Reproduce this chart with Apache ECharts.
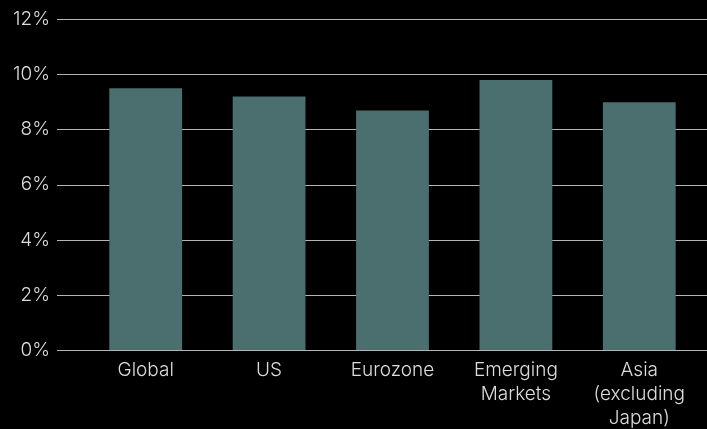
<!DOCTYPE html>
<html><head><meta charset="utf-8">
<script src="https://cdn.jsdelivr.net/npm/echarts@6/dist/echarts.min.js"></script>
<style>html,body{margin:0;padding:0;background:#000;}#c{width:707px;height:429px;}</style>
</head><body><div id="c"></div>
<script>
const categories = ['Global', 'US', 'Eurozone', 'Emerging\nMarkets', 'Asia\n(excluding\nJapan)'];
const values = [9.5, 9.2, 8.7, 9.8, 9.0];
const yTicks = [0, 2, 4, 6, 8, 10, 12];

const chart = echarts.init(document.getElementById('c'), null, {renderer: 'canvas'});
const FONT = 'Inter';
chart.setOption({
  backgroundColor: '#000',
  animation: false,
  grid: [
    {left: 57, right: 0, top: 19.5, bottom: 79, containLabel: false, outerBoundsMode: 'none'},
    {left: 84, right: 6, top: 19.5, bottom: 79, containLabel: false, outerBoundsMode: 'none'}
  ],
  xAxis: [
    {gridIndex: 0, type: 'value', show: false, min: 0, max: 1},
    {gridIndex: 1, type: 'category', data: categories,
     axisLine: {show: false}, axisTick: {show: false},
     axisLabel: {color: '#dcdcdc', fontFamily: FONT, fontWeight: 300, fontSize: 19, lineHeight: 24, margin: 8, interval: 0, verticalAlign: 'top'}}
  ],
  yAxis: [
    {gridIndex: 0, type: 'value', min: yTicks[0], max: yTicks[yTicks.length-1], interval: 2,
     axisLine: {show: false}, axisTick: {show: false},
     splitLine: {lineStyle: {color: '#b4b4b4', width: 1}},
     axisLabel: {color: '#dcdcdc', fontFamily: FONT, fontWeight: 300, fontSize: 19, margin: 7, padding: [7, 0, 0, 0], formatter: v => v + '%'}},
    {gridIndex: 1, type: 'value', min: yTicks[0], max: yTicks[yTicks.length-1], show: false}
  ],
  series: [{
    type: 'bar', xAxisIndex: 1, yAxisIndex: 1, data: values,
    barCategoryGap: '41%',
    itemStyle: {color: '#4b6e6f', borderWidth: 0}
  }]
});
</script></body></html>
